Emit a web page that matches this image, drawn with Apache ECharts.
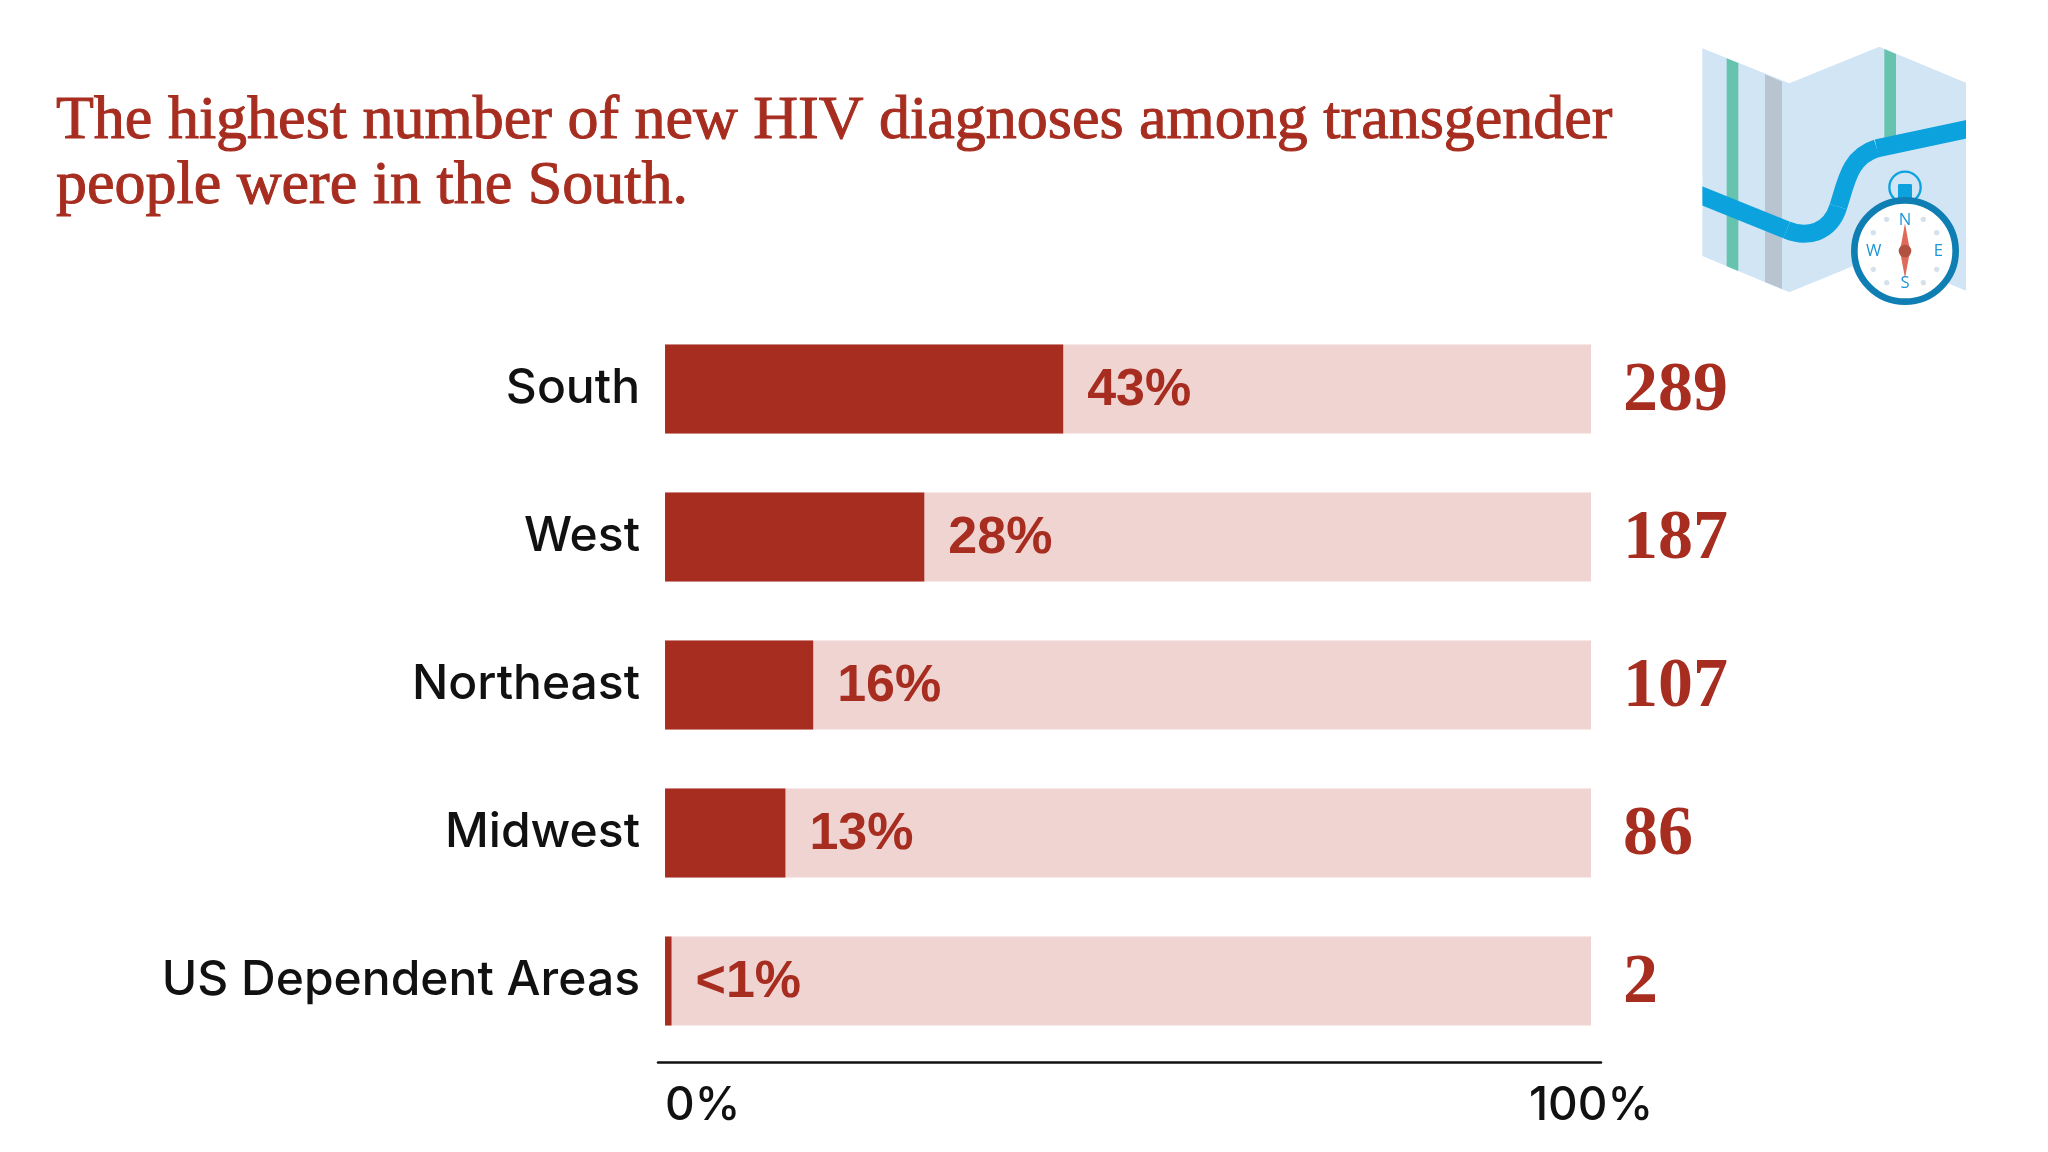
<!DOCTYPE html>
<html>
<head>
<meta charset="utf-8">
<style>html,body{margin:0;padding:0;background:#fff}#chart{width:2048px;height:1152px}</style>
<script src="https://cdn.jsdelivr.net/npm/echarts@6/dist/echarts.min.js"></script>
</head>
<body>
<div id="chart"></div>
<script>
const regions = ['South', 'West', 'Northeast', 'Midwest', 'US Dependent Areas'];
const shares = [43, 28, 16, 13, 0.7];
const shareLabels = ['43%', '28%', '16%', '13%', '<1%'];
const diagnoses = [289, 187, 107, 86, 2];
const fullBar = [100, 100, 100, 100, 100];
const axisTicks = [0, 100];

const RED = '#a62d1f';
const PINK = '#efd4d1';
const RIVER = '#0ca2de';

// Icone carte + boussole, coordonnees dans un repere x3
const dots = [[680,598],[790,598],[640,638],[830,638],[640,748],[830,748],[680,788],[790,788]];
const compassLetters = [['N',735,600],['S',735,790],['W',641,693],['E',835,693]];
const poly = (points, fill) => ({ type: 'polygon', shape: { points }, style: { fill } });
const riverStyle = { fill: 'none', stroke: RIVER, lineWidth: 54 };
const curve = (x1, y1, cpx1, cpy1, cpx2, cpy2, x2, y2) => ({
    type: 'bezierCurve', shape: { x1, y1, cpx1, cpy1, cpx2, cpy2, x2, y2 }, style: riverStyle
});
const mapIcon = {
    type: 'group',
    x: 1660, y: 20, scaleX: 1 / 3, scaleY: 1 / 3,
    children: [
        poly([[127,85],[388,190],[658,80],[918,188],[918,812],[660,705],[388,817],[127,708]], '#d1e5f5'),
        poly([[200,115],[235,129],[235,753],[200,739]], '#66c3ae'),
        poly([[315,163],[366,185],[366,807],[315,786]], '#b8c4d0'),
        poly([[673,87],[708,102],[708,370],[673,370]], '#66c3ae'),
        { type: 'polyline', shape: { points: [[90,513],[380,630]] }, style: riverStyle },
        curve(380, 630, 440, 655, 510, 640, 535, 560),
        curve(535, 560, 560, 480, 570, 410, 650, 385),
        { type: 'polyline', shape: { points: [[650,385],[960,319]] }, style: riverStyle },
        // coupe les bouts de la riviere au bord de la carte
        { type: 'rect', shape: { x: 70, y: 470, width: 57, height: 100 }, style: { fill: '#fff' } },
        { type: 'rect', shape: { x: 918, y: 280, width: 60, height: 90 }, style: { fill: '#fff' } },
        { type: 'circle', shape: { cx: 735, cy: 502, r: 47 }, style: { fill: 'none', stroke: RIVER, lineWidth: 7 } },
        { type: 'rect', shape: { x: 714, y: 492, width: 42, height: 50, r: 4 }, style: { fill: RIVER } },
        { type: 'circle', shape: { cx: 735, cy: 693, r: 152 }, style: { fill: '#fff', stroke: '#0f7fb3', lineWidth: 20 } },
        ...dots.map(d => ({ type: 'circle', shape: { cx: d[0], cy: d[1], r: 8 }, style: { fill: '#d5e2ec' } })),
        ...compassLetters.map(l => ({ type: 'text', x: l[1], y: l[2], style: {
            text: l[0], fill: '#1c96d6', font: '50px "Open Sans"', align: 'center', verticalAlign: 'middle' } })),
        poly([[735,610],[750,693],[735,775],[720,693]], '#e0695a'),
        { type: 'circle', shape: { cx: 735, cy: 693, r: 19 }, style: { fill: '#b0523f' } }
    ]
};

const chart = echarts.init(document.getElementById('chart'), null, { renderer: 'canvas' });

chart.setOption({
    animation: false,
    backgroundColor: '#fff',
    title: {
        text: 'The highest number of new HIV diagnoses among transgender\npeople were in the South.',
        left: 51,
        top: 84,
        textStyle: {
            fontFamily: 'Liberation Serif', fontWeight: 'normal', fontSize: 62, lineHeight: 65, color: RED,
            textBorderColor: RED, textBorderWidth: 1
        }
    },
    grid: { left: 658, right: 447, top: 315, bottom: 97, containLabel: false },
    xAxis: {
        type: 'value',
        min: -0.76,
        max: 101.08,
        offset: 7,
        splitLine: { show: false },
        axisTick: { show: false },
        axisLine: { show: true, onZero: false, lineStyle: { color: '#111', width: 2.5 } },
        axisLabel: {
            customValues: axisTicks,
            formatter: '{value}%',
            alignMinLabel: 'left',
            alignMaxLabel: 'center',
            margin: 21,
            fontFamily: 'Inter',
            fontWeight: 500,
            fontSize: 46,
            color: '#111'
        }
    },
    yAxis: {
        type: 'category',
        inverse: true,
        data: regions,
        axisLine: { show: false, onZero: false },
        axisTick: { show: false },
        axisLabel: { margin: 18, padding: [8, 0, 0, 0], fontFamily: 'Inter', fontWeight: 500, fontSize: 48, color: '#111' }
    },
    series: [
        {
            name: 'Total',
            type: 'bar',
            data: fullBar,
            barWidth: 89,
            barGap: '-100%',
            itemStyle: { color: PINK },
            label: {
                show: true,
                position: 'right',
                distance: 32,
                offset: [0, 3],
                formatter: p => diagnoses[p.dataIndex],
                fontFamily: 'Liberation Serif',
                fontWeight: 'bold',
                fontSize: 70,
                color: RED
            }
        },
        {
            name: 'Share',
            type: 'bar',
            data: shares,
            barWidth: 89,
            barGap: '-100%',
            itemStyle: { color: RED },
            label: {
                show: true,
                position: 'right',
                distance: 24,
                offset: [0, 2],
                formatter: p => shareLabels[p.dataIndex],
                fontFamily: 'Liberation Sans',
                fontWeight: 'bold',
                fontSize: 52,
                color: RED
            }
        }
    ],
    graphic: [mapIcon]
});

window.addEventListener('resize', () => {
    chart.resize();
});
</script>
</body>
</html>
